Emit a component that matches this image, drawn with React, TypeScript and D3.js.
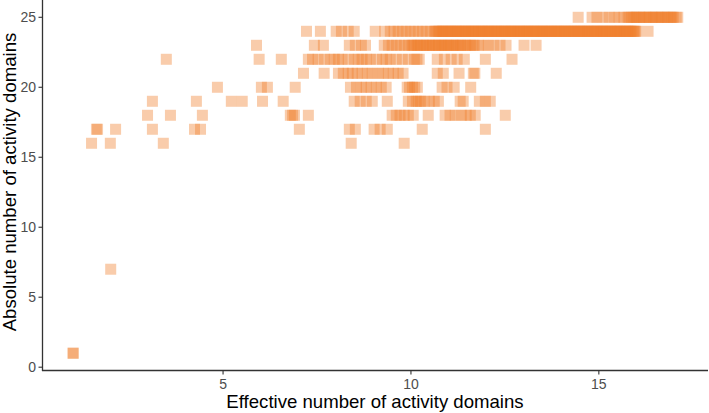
import React from "react";
import * as d3 from "d3";

// Absolute number of activity domains (y) and the effective numbers observed at each
const absoluteLevels = [25, 24, 23, 22, 21, 20, 19, 18, 17, 16, 7, 1];
const eff25 = [14.45, 14.82, 14.95, 15.11, 15.27, 15.41, 15.54, 15.67, 15.78, 15.86, 15.94, 16.01, 16.09, 16.18, 16.26, 16.34, 16.42, 16.5, 16.58, 16.66, 16.74, 16.82, 16.9, 16.98, 17.06, 17.1,
  15.82, 15.98, 16.13, 16.3, 16.46, 16.62, 16.78, 16.94];
const eff24 = [7.22, 7.59, 8.01, 8.15, 8.33, 8.49, 9.05, 9.3, 9.45, 9.55, 9.66, 9.77, 9.87, 9.98, 10.08, 10.19, 10.3, 10.4, 10.51,
  10.62, 10.69, 10.77, 10.84, 10.92, 11.0, 11.07, 11.15, 11.22, 11.3, 11.38, 11.45, 11.53, 11.61, 11.68, 11.76, 11.84, 11.91, 11.99, 12.06, 12.14, 12.22, 12.29, 12.37, 12.45, 12.52, 12.6, 12.67, 12.75, 12.83, 12.9, 12.98, 13.06, 13.13, 13.21, 13.28, 13.36, 13.44, 13.51, 13.59, 13.67, 13.74, 13.82, 13.89, 13.97, 14.05, 14.12, 14.2, 14.28, 14.35, 14.43, 14.5, 14.58, 14.66, 14.73, 14.81, 14.89, 14.96, 15.04, 15.11, 15.19, 15.27, 15.34, 15.42, 15.5, 15.57, 15.65, 15.72, 15.8, 15.88, 15.95, 16.02, 16.31,
  10.66, 10.73, 10.81, 10.88, 10.96, 11.04, 11.11, 11.19, 11.26, 11.34, 11.42, 11.49, 11.57, 11.65, 11.72, 11.8, 11.88, 11.95, 12.03, 12.1, 12.18, 12.26, 12.33, 12.41, 12.49, 12.56, 12.64, 12.71, 12.79, 12.87, 12.94, 13.02, 13.1, 13.17, 13.25, 13.32, 13.4, 13.48, 13.55, 13.63, 13.71, 13.78, 13.86, 13.93, 14.01, 14.09, 14.16, 14.24, 14.32, 14.39, 14.47, 14.54, 14.62, 14.7, 14.77, 14.85, 14.93, 15.0, 15.08, 15.15, 15.23, 15.31, 15.38, 15.46, 15.54, 15.61, 15.69, 15.76, 15.84, 15.92, 15.98];
const eff23 = [5.89, 7.43, 7.67, 8.36, 8.52, 8.68, 8.79, 9.29, 9.4, 9.5, 9.61, 9.71, 9.82, 9.93, 10.01, 10.09, 10.17, 10.25, 10.33, 10.41, 10.49, 10.57, 10.65, 10.73, 10.81, 10.88, 10.96, 11.04, 11.12, 11.2, 11.28, 11.36, 11.46, 11.58, 11.68, 11.79, 11.92, 12.06, 12.21, 12.37, 12.53, 13.01, 13.33,
  10.05, 10.21, 10.37, 10.53, 10.69, 10.85, 11.0, 11.16, 11.32, 11.5, 11.64];
const eff22 = [3.49, 5.96, 6.55, 7.27, 7.38, 7.53, 7.69, 7.85, 7.96, 8.07, 8.17, 8.33, 8.49, 8.6, 8.7, 8.81, 8.92, 9.08, 9.24, 9.34, 9.45, 9.61, 9.77, 9.93, 10.09, 10.16, 10.22, 10.7, 10.89, 11.07, 11.23, 11.42, 11.98, 12.69];
const eff21 = [7.14, 7.69, 8.07, 8.2, 8.33, 8.44, 8.57, 8.7, 8.84, 8.97, 9.13, 9.26, 9.4, 9.53, 9.66, 9.79, 10.7, 10.86, 11.28, 11.66, 11.7, 12.27];
const eff20 = [4.85, 6.02, 6.18, 6.92, 8.39, 8.55, 8.68, 8.81, 8.94, 9.08, 9.21, 9.34, 9.9, 9.96, 10.04, 10.1, 10.17, 10.83, 10.96, 11.15, 11.59];
const eff19 = [3.12, 4.29, 5.22, 5.51, 6.05, 6.6, 8.49, 8.65, 8.81, 8.97, 9.37, 9.93, 10.04, 10.14, 10.2, 10.25, 10.35, 10.49, 10.62, 10.73, 11.31, 11.39, 11.82, 11.98, 12.11];
const eff18 = [2.99, 3.6, 4.45, 6.79, 6.85, 6.9, 7.27, 9.5, 9.61, 9.71, 9.82, 9.93, 10.06, 10.46, 10.91, 11.04, 11.18, 11.34, 11.47, 11.58, 11.71, 12.51];
const eff17 = [1.63, 1.66, 2.14, 3.12, 4.24, 4.4, 7.03, 8.36, 8.52, 9.02, 9.18, 9.37, 10.3, 11.98];
const eff16 = [1.5, 2.0, 3.41, 8.41, 9.82];
const eff7 = [2.01];
const eff1 = [1.01, 1.01];
const effectiveByLevel = [eff25, eff24, eff23, eff22, eff21, eff20, eff19, eff18, eff17, eff16, eff7, eff1];

const xTicks = [5, 10, 15];
const yTicks = [0, 5, 10, 15, 20, 25];

const W = 709;
const H = 413;
const FONT = "'Liberation Sans', Arial, Helvetica, sans-serif";

export default function App() {
  const x = d3.scaleLinear().domain([0.195, 17.905]).range([42.5, 708]);
  const y = d3.scaleLinear().domain([-0.2, 26.2]).range([370, 0.5]);

  const points: { ex: number; ab: number }[] = [];
  absoluteLevels.forEach((ab, i) => {
    effectiveByLevel[i].forEach((ex) => points.push({ ex, ab }));
  });

  const sq = 11;
  const axisX = 42.5;
  const axisY = 370.5;

  return (
    <svg
      width={W}
      height={H}
      style={{ position: "absolute", left: 0, top: 0, background: "#fff" }}
      fontFamily={FONT}
    >
      <rect width={W} height={H} fill="#fff" />
      <g>
        {points.map((p, i) => (
          <rect
            key={i}
            x={x(p.ex) - sq / 2}
            y={y(p.ab) - sq / 2}
            width={sq}
            height={sq}
            fill="#EF7F2C"
            fillOpacity={0.4}
          />
        ))}
      </g>
      {/* axes */}
      <line x1={axisX} x2={axisX} y1={0} y2={axisY + 0.5} stroke="#333" strokeWidth={1.3} />
      <line x1={axisX - 0.5} x2={708} y1={axisY} y2={axisY} stroke="#333" strokeWidth={1.3} />
      {yTicks.map((t) => (
        <g key={"y" + t}>
          <line x1={axisX - 4} x2={axisX} y1={y(t)} y2={y(t)} stroke="#333" strokeWidth={1.1} />
          <text x={axisX - 6.5} y={y(t)} dy="0.36em" textAnchor="end" fontSize={14} fill="#4d4d4d">
            {t}
          </text>
        </g>
      ))}
      {xTicks.map((t) => (
        <g key={"x" + t}>
          <line x1={x(t)} x2={x(t)} y1={axisY} y2={axisY + 4} stroke="#333" strokeWidth={1.1} />
          <text x={x(t)} y={axisY + 18} textAnchor="middle" fontSize={14} fill="#4d4d4d">
            {t}
          </text>
        </g>
      ))}
      <text x={375} y={408} textAnchor="middle" fontSize={18.6} fill="#000">
        Effective number of activity domains
      </text>
      <text
        transform={`translate(16, 182) rotate(-90)`}
        textAnchor="middle"
        fontSize={18.6}
        fill="#000"
      >
        Absolute number of activity domains
      </text>
    </svg>
  );
}
